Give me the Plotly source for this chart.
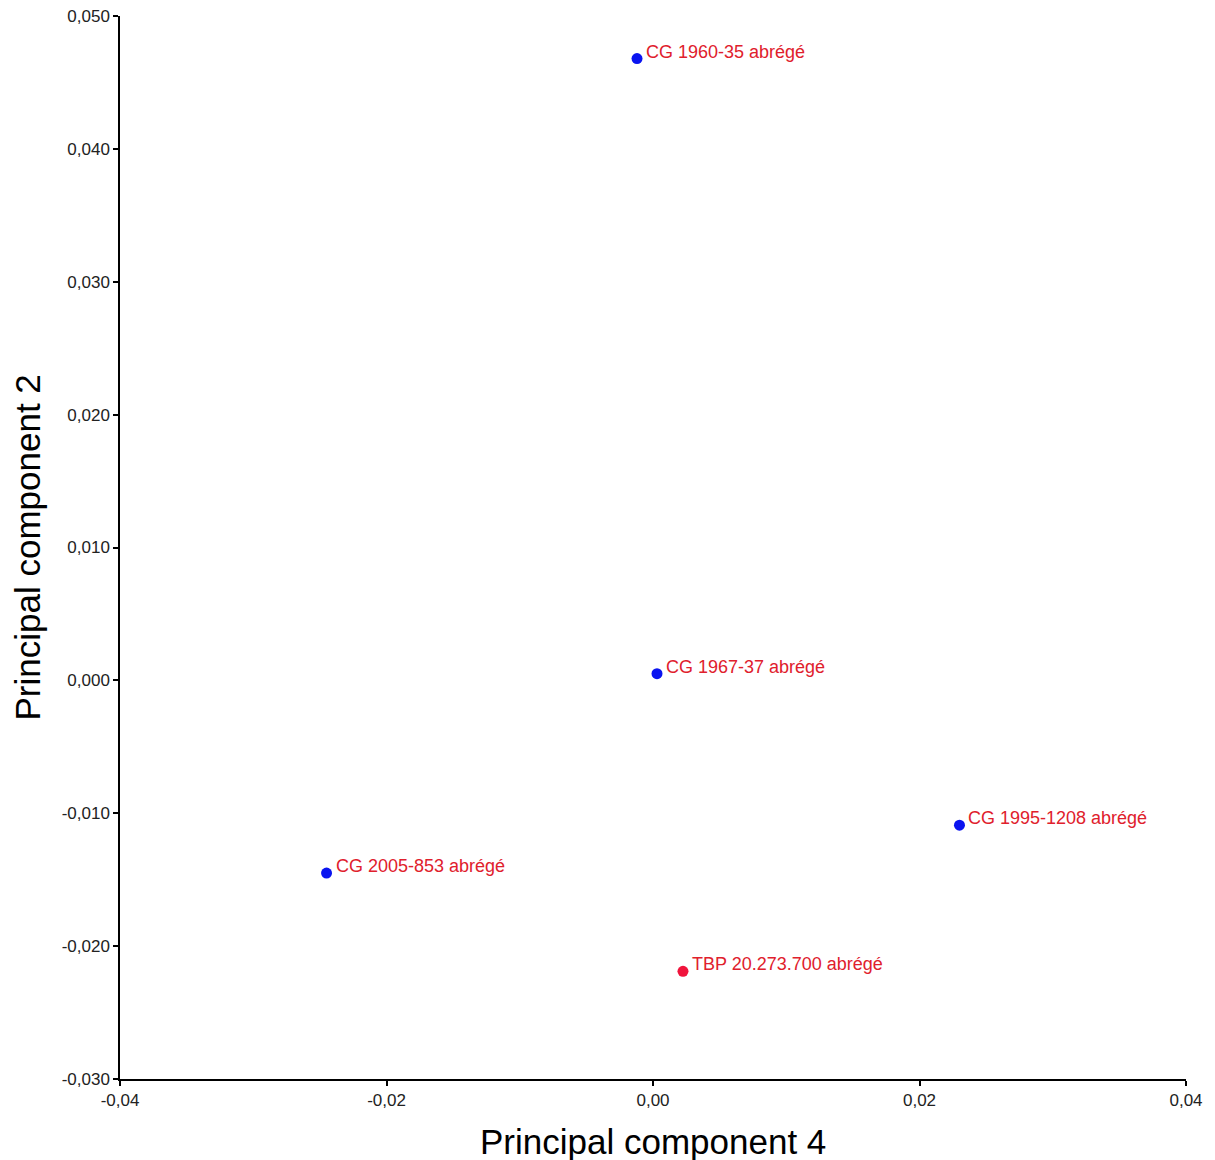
import plotly.graph_objects as go

labels = ["CG 1960-35 abrégé", "CG 1967-37 abrégé", "CG 1995-1208 abrégé",
          "CG 2005-853 abrégé", "TBP 20.273.700 abrégé"]
pc4 = [-0.0012, 0.0003, 0.0230, -0.0245, 0.00225]
pc2 = [0.0468, 0.0005, -0.0109, -0.0145, -0.0219]
point_colors = ["#0a14f0", "#0a14f0", "#0a14f0", "#0a14f0", "#f0143c"]

x_ticks = [-0.04, -0.02, 0.0, 0.02, 0.04]
x_ticktext = ["-0,04", "-0,02", "0,00", "0,02", "0,04"]
y_ticks = [-0.030, -0.020, -0.010, 0.000, 0.010, 0.020, 0.030, 0.040, 0.050]
y_ticktext = ["-0,030", "-0,020", "-0,010", "0,000", "0,010", "0,020", "0,030", "0,040", "0,050"]

FONT = "Liberation Sans, Arial, sans-serif"

fig = go.Figure()
fig.add_trace(go.Scatter(
    x=pc4, y=pc2, mode="markers",
    marker=dict(color=point_colors, size=11, line=dict(width=0)),
    hovertext=labels, showlegend=False,
))

for xv, yv, lab in zip(pc4, pc2, labels):
    fig.add_annotation(
        x=xv, y=yv, text=lab, showarrow=False,
        xanchor="left", yanchor="middle", xshift=7, yshift=7,
        font=dict(family=FONT, size=18, color="#e0202c"),
    )

# axis titles
fig.add_annotation(x=0.5, y=0, xref="paper", yref="paper", text="Principal component 4",
                   showarrow=False, xanchor="center", yanchor="middle", yshift=-62,
                   font=dict(family=FONT, size=35, color="black"))
fig.add_annotation(x=0, y=0.5, xref="paper", yref="paper", text="Principal component 2",
                   showarrow=False, xanchor="center", yanchor="middle", xshift=-93,
                   textangle=-90, font=dict(family=FONT, size=35, color="black"))

axis_common = dict(
    showgrid=False, zeroline=False, showline=True, linecolor="black", linewidth=1.5,
    ticks="outside", ticklen=5, tickwidth=1.5, tickcolor="black", automargin=False,
    ticklabeloverflow="allow",
    tickfont=dict(family=FONT, size=17, color="#222"),
)

fig.update_layout(
    width=1207, height=1152,
    margin=dict(l=112, r=29, t=8, b=81),
    paper_bgcolor="white", plot_bgcolor="white",
    xaxis=dict(range=[-0.04, 0.04], tickvals=x_ticks, ticktext=x_ticktext, **axis_common),
    yaxis=dict(range=[-0.030, 0.050], tickvals=y_ticks, ticktext=y_ticktext, **axis_common),
)

fig.write_html("out.html")
